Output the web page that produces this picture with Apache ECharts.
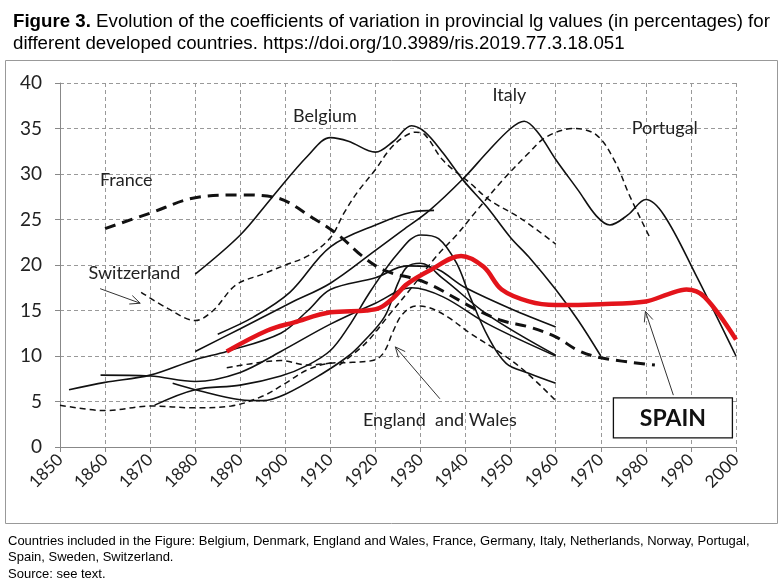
<!DOCTYPE html>
<html>
<head>
<meta charset="utf-8">
<script src="https://cdn.jsdelivr.net/npm/echarts@6/dist/echarts.min.js"></script>
<style>
  html, body { margin: 0; background: #fff; }
  #chart { width: 784px; height: 587px; }
</style>
</head>
<body>
<div id="chart"></div>
<script>
// values, [year, coefficient of variation %]
const spain = [[1887,10.5],[1896,12.8],[1902,13.7],[1910,14.8],[1918,15],[1921,15.3],[1924,16.4],[1927,17.9],[1932,19.4],[1939,21],[1944,19.8],[1948,17.3],[1954,16],[1960,15.6],[1970,15.7],[1980,16],[1985,16.8],[1989,17.3],[1993,16.5],[2000,11.8]];
const belgium = [[1880,19],[1890,23.3],[1897,27.4],[1905,32],[1910,34],[1914,33.6],[1920,32.4],[1924,33.6],[1928,35.3],[1931,34.6],[1935,32.3],[1939.5,29.3],[1944.7,26.4],[1950,23],[1954,20.9],[1960,17.3],[1965,13.9],[1970,10]];
const italy = [[1880,10.5],[1890,13],[1901,15.8],[1910,18],[1920,21.6],[1926,23.8],[1932,26],[1939.5,29.5],[1945,32.5],[1950,35],[1953,35.8],[1956,34.6],[1960,31.6],[1965,28.2],[1969,25.4],[1972,24.4],[1976,25.5],[1980,27.2],[1984,25.5],[1991,19],[2000,10]];
const portugal = [[1912,9],[1918,11.5],[1923,14.5],[1928,17.5],[1933.6,21],[1938,23.3],[1942,25.7],[1948,29.2],[1954,32.3],[1958,34.1],[1964,35],[1969,34.3],[1973,31.5],[1976.5,27.5],[1981,22.9]];
const france = [[1860,24],[1870,25.7],[1880,27.4],[1890,27.7],[1898,27.4],[1906,25.2],[1912,23.2],[1917,21],[1922,19.4],[1931,18.1],[1942,15.2],[1948,13.9],[1954,13.2],[1960,12.1],[1965,10.6],[1970,9.8],[1982,9]];
const switzerland = [[1868,17],[1874,15.2],[1880,13.9],[1884,15],[1889,17.8],[1895,19],[1900,20],[1905,21],[1910,23],[1913,25.7],[1916,28],[1920,30.5],[1923,32.6],[1926,34],[1929,34.6],[1931,34.3],[1935,31.5],[1941,29],[1945.4,27.1],[1952,25.2],[1960,22.3]];
const englandWales = [[1850,4.6],[1860,4.0],[1870,4.5],[1880,4.3],[1888,4.5],[1895,5.6],[1900,7],[1905,8.5],[1910,9.2],[1915,9.3],[1920,9.6],[1922,10.5],[1924,12.8],[1926,14.6],[1929,15.5],[1932,15.3],[1936,14.3],[1941,12.5],[1947,10.6],[1953,8.4],[1960,5.1]];
const dashedShort = [[1887,8.7],[1893,9.2],[1899,9.5],[1905,9.0],[1911,9.3]];
const lineC = [[1885,12.4],[1893,14.3],[1901,17],[1910,22],[1921,24.6],[1928,25.8],[1933,26]];
const lineL = [[1852,6.3],[1860,7.1],[1870,7.9],[1880,9.6],[1887,10.5],[1899,12.5],[1905,15],[1910,17.3],[1920,18.6],[1927,19.9],[1932,19.8],[1940,17.5],[1950,15.2],[1960,13.2]];
const lineI = [[1859,7.9],[1870,7.8],[1880,7.2],[1890,8.2],[1899,10.5],[1910,13.5],[1920,15.8],[1928,17.5],[1935,16.5],[1945,13.5],[1960,10]];
const lineJ = [[1875,7],[1880,6.3],[1890,5.2],[1895,5.1],[1900,5.8],[1908,8],[1914,10],[1917,11.4],[1922,14.3],[1925,18],[1927,19.8],[1930,20.2],[1935,18.5],[1945,14.5],[1960,10.1]];
const lineK = [[1871,4.6],[1880,6.3],[1890,6.8],[1899,7.8],[1905,9],[1910,10.6],[1914,13.2],[1919,17.2],[1925,21.3],[1930,23.3],[1934,22.9],[1938,20.2],[1941,16.5],[1945,12.1],[1949,9.2],[1954,8.1],[1960,7]];

// labels and arrows drawn on the plot, in data coordinates
const labels = [
  { text: 'Belgium', at: [1908.8, 36.3] },
  { text: 'Italy', at: [1949.7, 38.7] },
  { text: 'Portugal', at: [1984.2, 35.0] },
  { text: 'France', at: [1864.7, 29.3] },
  { text: 'Switzerland', at: [1866.5, 19.1] },
  { text: 'England  and Wales', at: [1934.3, 2.9] },
];
const arrows = [
  [[1858.9, 17.4], [1867.8, 15.8]],
  [[1934.3, 5.3], [1924.4, 11.0]],
  [[1986.1, 5.7], [1979.9, 14.9]],
];
const spainBox = [1986, 3.2];

const chart = echarts.init(document.getElementById('chart'));

const solid = { color: '#111', width: 1.6, type: 'solid' };
const thinDash = { color: '#111', width: 1.5, type: [6, 4] };
const thickDash = { color: '#111', width: 3, type: [11, 7] };

const mk = (name, data, style, z) => ({
  name, type: 'line', data, smooth: 0.35, showSymbol: false,
  lineStyle: style, z: z || 2, silent: true,
});

chart.setOption({
  animation: false,
  title: {
    left: 8, top: 6,
    text: '{b|Figure 3.} Evolution of the coefficients of variation in provincial lg values (in percentages) for\ndifferent developed countries. https://doi.org/10.3989/ris.2019.77.3.18.051',
    textStyle: {
      fontFamily: 'Liberation Sans, Arial', fontSize: 18.7, fontWeight: 'normal', color: '#000', lineHeight: 22,
      rich: { b: { fontFamily: 'Liberation Sans, Arial', fontSize: 18.7, fontWeight: 'bold', color: '#000', lineHeight: 22 } },
    },
  },
  grid: { left: 60, right: 48, top: 83, bottom: 140 },
  xAxis: {
    type: 'value', min: 1850, max: 2000, interval: 10,
    axisLine: { show: true, lineStyle: { color: '#888' } },
    axisTick: { show: true, length: 5, lineStyle: { color: '#888' } },
    axisLabel: { rotate: 45, margin: 10, fontFamily: 'Lato', fontSize: 17, color: '#222', formatter: (v) => String(v) },
    splitLine: { show: true, lineStyle: { color: '#999', type: [4, 3] } },
  },
  yAxis: {
    type: 'value', min: 0, max: 40, interval: 5,
    axisLine: { show: true, lineStyle: { color: '#888' } },
    axisTick: { show: true, length: 5, lineStyle: { color: '#888' } },
    axisLabel: { margin: 18, fontFamily: 'Lato', fontSize: 19, color: '#222' },
    splitLine: { show: true, lineStyle: { color: '#999', type: [4, 3] } },
  },
  series: [
    mk('Belgium', belgium, solid),
    mk('Italy', italy, solid),
    mk('Portugal', portugal, thinDash),
    mk('France', france, thickDash),
    mk('Switzerland', switzerland, thinDash),
    mk('England and Wales', englandWales, thinDash),
    mk('dashedShort', dashedShort, thinDash),
    mk('lineC', lineC, solid),
    mk('lineL', lineL, solid),
    mk('lineI', lineI, solid),
    mk('lineJ', lineJ, solid),
    mk('lineK', lineK, solid),
    mk('Spain', spain, { color: '#e3141b', width: 4.5, type: 'solid' }, 5),
  ],
});

const px = (p) => chart.convertToPixel({ gridIndex: 0 }, p);

const graphics = [
  { type: 'rect', shape: { x: 5.5, y: 60.5, width: 772, height: 463 }, style: { fill: null, stroke: '#999', lineWidth: 1 }, z: -1 },
  {
    type: 'text', left: 8, top: 533,
    style: {
      text: 'Countries included in the Figure: Belgium, Denmark, England and Wales, France, Germany, Italy, Netherlands, Norway, Portugal,\nSpain, Sweden, Switzerland.\nSource: see text.',
      fontFamily: 'Liberation Sans, Arial', fontSize: 13, lineHeight: 16.5, fill: '#000',
    },
  },
];

labels.forEach((l) => {
  const p = px(l.at);
  graphics.push({
    type: 'text', x: p[0], y: p[1], z: 10,
    style: { text: l.text, fontFamily: 'Lato', fontSize: 18, fill: '#222', align: 'center', verticalAlign: 'middle' },
  });
});

arrows.forEach(([from, to]) => {
  const a = px(from), b = px(to);
  const ang = Math.atan2(b[1] - a[1], b[0] - a[0]);
  const len = 11, spread = 0.42;
  const w1 = [b[0] - len * Math.cos(ang - spread), b[1] - len * Math.sin(ang - spread)];
  const w2 = [b[0] - len * Math.cos(ang + spread), b[1] - len * Math.sin(ang + spread)];
  graphics.push({ type: 'line', z: 10, shape: { x1: a[0], y1: a[1], x2: b[0], y2: b[1] }, style: { stroke: '#333', lineWidth: 1 } });
  graphics.push({ type: 'polyline', z: 10, shape: { points: [w1, b, w2] }, style: { stroke: '#333', lineWidth: 1, fill: null } });
});

const sb = px(spainBox);
graphics.push({
  type: 'rect', z: 10, shape: { x: sb[0] - 59.5, y: sb[1] - 20, width: 119, height: 40 },
  style: { fill: '#fff', stroke: '#111', lineWidth: 1.3 },
});
graphics.push({
  type: 'text', z: 11, x: sb[0], y: sb[1] + 1,
  style: { text: 'SPAIN', fontFamily: 'Lato', fontWeight: 'bold', fontSize: 23, fill: '#111', align: 'center', verticalAlign: 'middle' },
});

chart.setOption({ graphic: graphics });
</script>
</body>
</html>
